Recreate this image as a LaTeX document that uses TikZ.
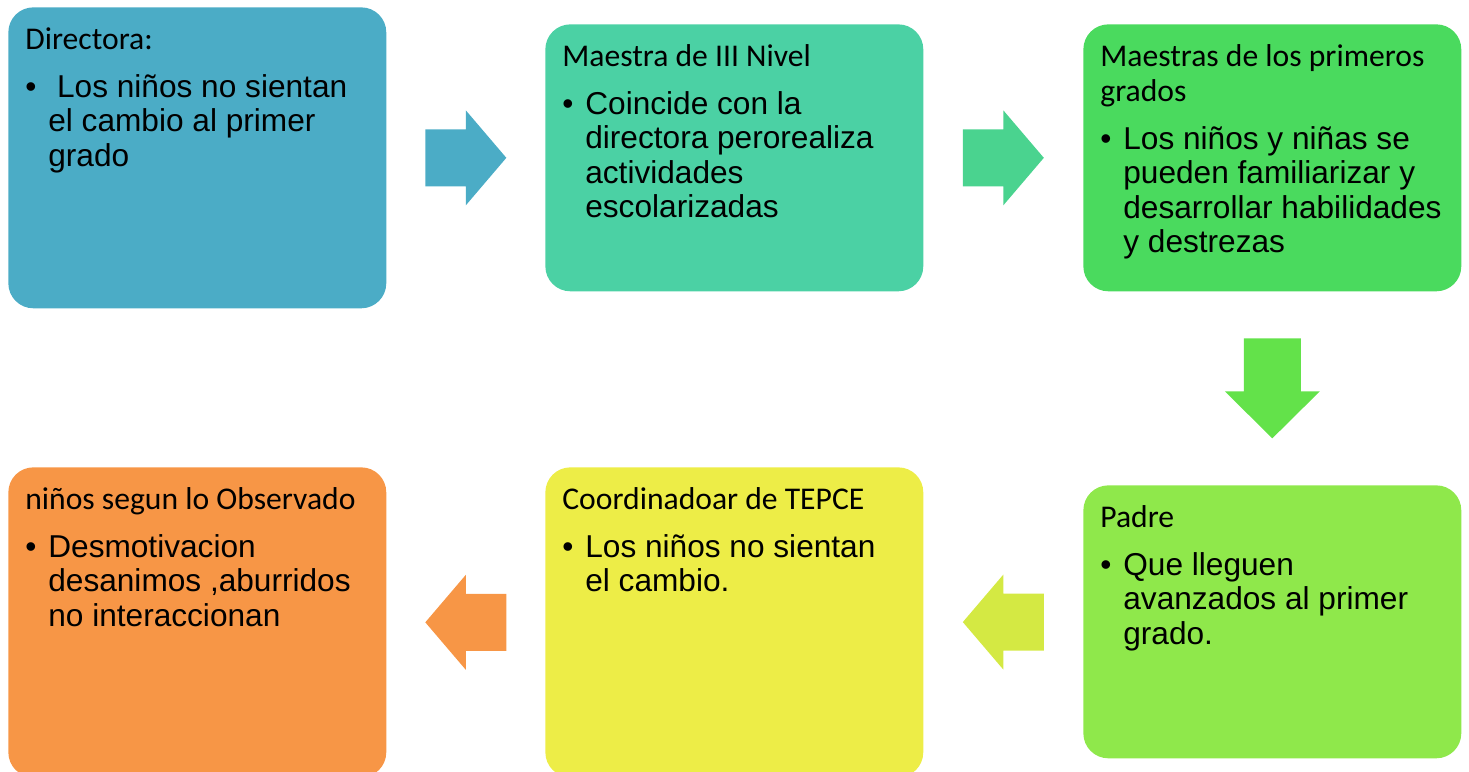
\documentclass[tikz,border=0pt]{standalone}
\usepackage{fontspec}
\newfontfamily\hfont{Carlito}
\newfontfamily\bfont{Liberation Sans}
\usetikzlibrary{calc}
\definecolor{cdir}{HTML}{4BACC6}
\definecolor{cmae}{HTML}{4BD1A4}
\definecolor{cprim}{HTML}{4ADA5E}
\definecolor{cpadre}{HTML}{8FE84B}
\definecolor{ccoord}{HTML}{EDED47}
\definecolor{cobs}{HTML}{F79646}
\definecolor{cfmae}{HTML}{4AD38F}
\definecolor{cfprim}{HTML}{63E24A}
\definecolor{cfpadre}{HTML}{D4E943}
\newcommand{\titulo}[1]{{\hfont\fontsize{18pt}{0.7cm}\selectfont\rule{0pt}{0.84cm}#1\par}}
\newcommand{\punto}[1]{{\vspace{0.27cm}\bfont\fontsize{18pt}{0.69cm}\selectfont\hangindent=0.46cm\hangafter=1\noindent\makebox[0.46cm][l]{•}#1\par}}
\newcommand{\caja}[2]{\parbox[c][#1][t]{7.56cm}{\leftskip=0.34cm\rightskip=0pt plus 1fil #2}}
% color, from, to, angle, half length, head length
\newcommand{\flecha}[6]{\fill[#1,shift={($(#2)!0.5!(#3)$)},rotate=#4] (-#5,-28.5) -- (#5-#6,-28.5) -- (#5-#6,-47.5) -- (#5,0) -- (#5-#6,47.5) -- (#5-#6,28.5) -- (-#5,28.5) -- cycle;}

\begin{document}
\begin{tikzpicture}[x=0.02cm,y=-0.02cm]
		\tikzset{caja/.style={rounded corners=0.5cm, inner sep=0pt, anchor=north west}}
		\clip (0,0) rectangle (1469,771);
		
		%%%%% upper row %%%%%
		\node[caja, fill=cdir] (dir) at (8,7) {\caja{6.02cm}{\titulo{Directora:}\punto{\ Los niños no sientan\\el cambio al primer\\grado}}};
		\node[caja, fill=cmae] (mae) at (545,24) {\caja{5.34cm}{\titulo{Maestra de III Nivel}\punto{Coincide con la\\directora perorealiza\\actividades\\escolarizadas}}};
		\node[caja, fill=cprim] (prim) at (1083,24) {\caja{5.34cm}{\titulo{Maestras de los primeros\\grados}\punto{Los niños y niñas se\\pueden familiarizar y\\desarrollar habilidades\\y destrezas}}};
		
		%%%%% lower row %%%%%
		\node[caja, fill=cpadre] (padre) at (1083,485) {\caja{5.46cm}{\titulo{Padre}\punto{Que lleguen\\avanzados al primer\\grado.}}};
		\node[caja, fill=ccoord] (coord) at (545,467) {\caja{6.2cm}{\titulo{Coordinadoar de TEPCE}\punto{Los niños no sientan\\el cambio.}}};
		\node[caja, fill=cobs] (obs) at (8,467) {\caja{6.2cm}{\titulo{niños segun lo Observado}\punto{Desmotivacion\\desanimos ,aburridos\\no interaccionan}}};
		
		%%%%% arrows %%%%%
		\flecha{cdir}{dir.east}{mae.west}{0}{40.5}{40.5}
		\flecha{cfmae}{mae.east}{prim.west}{0}{40.5}{40.5}
		\flecha{cfprim}{prim.south}{padre.north}{-90}{50}{47}
		\flecha{cfpadre}{padre.west}{coord.east}{180}{40.5}{40.5}
		\flecha{cobs}{coord.west}{obs.east}{180}{40.5}{40.5}
\end{tikzpicture}
\end{document}
